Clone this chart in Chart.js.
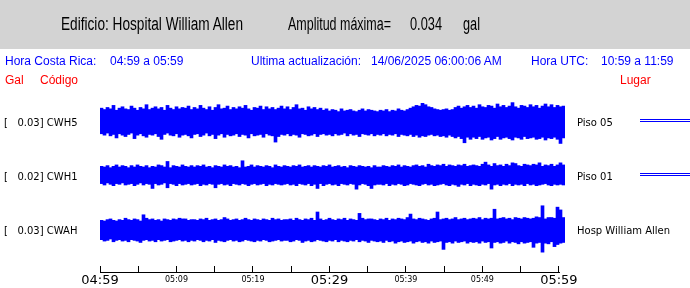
<!DOCTYPE html>
<html>
<head>
<meta charset="utf-8">
<script src="https://cdn.jsdelivr.net/npm/chart.js@4.4.1/dist/chart.umd.min.js"></script>
<style>
  html, body { margin: 0; padding: 0; background: #fff; }
  #wrap { position: relative; width: 690px; height: 288px; overflow: hidden; }
  #head { position: absolute; left: 0; top: 0; width: 690px; height: 49px; background: #d3d3d3; }
  canvas { position: absolute; left: 0; top: 0; }
  .t { position: absolute; white-space: pre; }
  .h { font: 18px/20px "Liberation Sans", Arial, sans-serif; color: #000; top: 14px; transform-origin: 0 0; }
  .b { font: 12px/14px "Liberation Sans", Arial, sans-serif; color: #0000ff; top: 54px; }
  .r { font: 12px/14px "Liberation Sans", Arial, sans-serif; color: #ff0000; top: 73px; }
  .s { font: 10px/12px "DejaVu Sans", sans-serif; color: #000; }
  .dl { position: absolute; left: 640px; width: 50px; height: 1px; border-top: 1px solid #0000ff; border-bottom: 1px solid #0000ff; }
</style>
</head>
<body>
<div id="wrap">
  <div id="head"></div>
  <canvas id="sismo" width="690" height="288"></canvas>

  <div class="t h" id="tEdif" style="left:61px">Edificio: Hospital William Allen</div>
  <div class="t h" id="tAmp" style="left:288px">Amplitud máxima=</div>
  <div class="t h" id="tVal" style="left:410px">0.034</div>
  <div class="t h" id="tGal" style="left:463px">gal</div>

  <div class="t b" style="left:5px">Hora Costa Rica:</div>
  <div class="t b" style="left:110px">04:59 a 05:59</div>
  <div class="t b" style="left:251px">Ultima actualización:</div>
  <div class="t b" style="left:371px">14/06/2025 06:00:06 AM</div>
  <div class="t b" style="left:531px">Hora UTC:</div>
  <div class="t b" style="left:601px">10:59 a 11:59</div>

  <div class="t r" style="left:5px">Gal</div>
  <div class="t r" style="left:40px">Código</div>
  <div class="t r" style="left:620px">Lugar</div>
</div>

<script>
// --- datos ---
const stations = ["CWH5", "CWH1", "CWAH"];
const peaks    = ["0.03", "0.02", "0.03"];
const places   = ["Piso 05", "Piso 01", "Hosp William Allen"];
const linked   = [true, true, false];   // doble linea azul a la derecha

// minutos desde 04:59
const tickMinutes = [0, 5, 10, 15, 20, 25, 30, 35, 40, 45, 50, 55, 60];
const tickLabels  = ["04:59", "", "05:09", "", "05:19", "", "05:29", "", "05:39", "", "05:49", "", "05:59"];
const bigTicks    = [0, 30, 60];

// envolvente de cada traza (mgal), una columna por cada ~23.5 s
const cwh5Hi = [
  20,18,21,19,24,17,20,22,19,18,23,20,17,21,19,25,18,20,22,19,21,17,24,20,18,22,19,21,20,23,18,
  21,19,24,20,18,22,17,21,25,19,20,23,18,21,19,22,20,24,19,17,21,20,23,18,22,19,21,18,20,23,19,
  22,18,21,25,19,20,17,22,19,21,18,20,17,19,16,18,17,15,19,16,17,18,16,15,17,19,16,18,17,16,15,
  17,16,18,15,17,16,19,17,16,18,20,22,24,23,27,25,22,21,19,18,17,18,19,17,18,21,23,20,22,24,21,
  23,20,25,22,21,24,23,20,26,22,24,21,23,28,22,20,24,23,21,25,22,24,20,23,26,22,25,21,24,22,23
];
const cwh5Lo = [
  -17,-19,-16,-20,-18,-23,-17,-19,-21,-18,-16,-24,-19,-17,-20,-22,-18,-19,-17,-21,-25,-18,-16,-19,-20,-17,-22,-19,-18,-20,-23,
  -18,-17,-21,-19,-16,-20,-18,-24,-19,-17,-22,-18,-20,-19,-17,-21,-18,-19,-23,-17,-20,-19,-18,-22,-17,-19,-20,-29,-21,-18,-19,
  -17,-20,-18,-19,-22,-17,-18,-20,-19,-17,-21,-18,-17,-19,-18,-20,-17,-19,-18,-16,-20,-17,-19,-18,-21,-17,-18,-19,-17,-20,-18,
  -19,-17,-20,-18,-19,-17,-21,-18,-19,-20,-18,-21,-19,-22,-20,-21,-19,-18,-20,-19,-21,-20,-22,-19,-21,-23,-21,-24,-30,-22,-25,
  -22,-24,-21,-25,-23,-22,-26,-24,-21,-25,-23,-22,-24,-26,-22,-23,-25,-21,-24,-23,-22,-25,-24,-22,-26,-23,-24,-22,-25,-31,-23
];
const cwh1Hi = [
  14,13,15,12,14,16,13,15,14,12,15,13,16,14,13,15,12,14,13,16,15,13,21,12,15,14,13,16,14,13,15,
  13,15,14,16,13,14,12,15,14,13,16,14,15,13,14,12,22,13,14,16,13,15,14,13,15,14,12,16,14,13,15,
  14,13,15,14,16,13,14,15,13,15,14,13,15,14,16,13,14,15,13,14,12,15,14,13,15,14,13,14,12,15,13,
  13,15,14,13,15,14,16,13,15,14,13,15,16,14,15,13,17,15,14,16,15,17,14,16,15,14,16,15,17,14,15,
  16,15,14,17,20,16,14,18,15,16,14,17,15,19,18,15,14,17,16,15,17,16,19,14,16,15,17,14,16,19,16
];
const cwh1Lo = [
  -11,-13,-10,-12,-14,-11,-12,-10,-13,-12,-11,-14,-12,-10,-13,-11,-12,-18,-11,-13,-12,-10,-17,-11,-12,-14,-11,-13,-12,-11,-13,
  -12,-11,-14,-12,-13,-11,-12,-17,-12,-11,-13,-12,-14,-11,-12,-13,-11,-12,-14,-12,-11,-13,-12,-11,-14,-12,-13,-11,-12,-13,-12,
  -11,-13,-12,-14,-11,-12,-13,-11,-14,-12,-18,-11,-14,-12,-11,-13,-12,-14,-11,-12,-13,-11,-12,-19,-13,-11,-12,-14,-18,-13,-12,
  -12,-13,-11,-14,-12,-13,-11,-12,-14,-13,-11,-12,-13,-14,-12,-11,-13,-12,-14,-13,-12,-11,-13,-14,-12,-13,-15,-12,-13,-11,-14,
  -12,-13,-14,-12,-13,-11,-19,-13,-12,-14,-12,-13,-11,-14,-12,-13,-12,-14,-11,-13,-12,-14,-13,-12,-11,-13,-14,-12,-13,-12,-13
];
const cwahHi = [
  14,13,15,16,14,13,15,14,17,15,14,16,15,13,22,17,15,16,14,15,13,16,15,14,16,15,17,16,16,14,15,
  15,14,16,15,17,14,15,16,14,15,18,16,14,15,16,14,15,17,15,14,16,15,14,16,15,14,17,15,16,14,15,
  15,16,14,17,15,14,16,15,17,14,26,16,14,15,17,15,14,16,15,17,14,16,15,14,24,17,15,16,16,15,14,
  16,15,17,14,16,15,17,16,15,18,23,16,15,17,16,15,14,16,17,26,15,16,17,15,16,18,15,16,17,15,16,
  17,16,18,15,17,16,17,30,16,17,18,16,17,15,18,17,16,18,17,16,17,19,18,35,16,18,18,17,33,29,18
];
const cwahLo = [
  -14,-16,-15,-13,-17,-15,-14,-16,-15,-17,-14,-15,-16,-18,-15,-14,-16,-15,-17,-14,-16,-15,-14,-17,-16,-15,-14,-16,-15,-17,-15,
  -16,-14,-15,-17,-15,-16,-14,-18,-15,-16,-17,-15,-14,-16,-15,-17,-16,-14,-15,-16,-17,-15,-16,-14,-15,-17,-16,-15,-14,-16,-15,
  -15,-17,-16,-14,-15,-18,-16,-15,-17,-16,-14,-15,-16,-17,-15,-16,-14,-17,-15,-16,-17,-15,-16,-14,-17,-15,-16,-18,-15,-16,-17,
  -16,-18,-15,-17,-16,-19,-17,-16,-18,-17,-16,-19,-17,-16,-18,-17,-19,-16,-18,-17,-16,-28,-18,-17,-19,-16,-18,-17,-16,-19,-17,
  -18,-17,-19,-16,-18,-17,-26,-18,-17,-19,-18,-16,-19,-17,-18,-20,-17,-19,-18,-17,-25,-19,-18,-32,-19,-20,-17,-24,-21,-19,-18
];

const traceHi = [cwh5Hi, cwh1Hi, cwahHi];
const traceLo = [cwh5Lo, cwh1Lo, cwahLo];

// --- grafico ---
const sampleIdx = cwh5Hi.map((_, i) => i);

// linea del eje de tiempo, debajo de las marcas
const axisLine = {
  id: "axisLine",
  afterDraw(c) {
    const sx = c.scales.x, g = c.ctx;
    const y = Math.round(sx.top + 7) - 0.5;
    g.save();
    g.strokeStyle = "#000";
    g.lineWidth = 1;
    g.beginPath();
    g.moveTo(Math.round(sx.getPixelForValue(tickMinutes[0])), y);
    g.lineTo(Math.round(sx.getPixelForValue(tickMinutes[tickMinutes.length - 1])) + 1, y);
    g.stroke();
    g.restore();
  }
};

const yAxis = (min, max, w) => ({
  type: "linear", position: "right", stack: "traces", stackWeight: w,
  min: min, max: max, display: false
});

const chart = new Chart(document.getElementById("sismo"), {
  type: "bar",
  data: {
    labels: sampleIdx,
    datasets: stations.map((st, k) => ({
      label: st,
      data: traceHi[k].map((h, i) => [traceLo[k][i], h]),
      xAxisID: "xs",
      yAxisID: "y" + (k + 1),
      backgroundColor: "#0000ff",
      borderWidth: 0,
      grouped: false,
      barPercentage: 1,
      categoryPercentage: 1
    }))
  },
  options: {
    responsive: false,
    animation: false,
    events: [],
    layout: { padding: { left: 100, right: 125, top: 95, bottom: 0 } },
    plugins: { legend: { display: false }, tooltip: { enabled: false } },
    scales: {
      xs: { type: "category", display: false, offset: true },
      x: {
        type: "linear", position: "bottom", min: 0, max: 60.8, offset: false,
        afterBuildTicks: (s) => { s.ticks = tickMinutes.map(v => ({ value: v })); },
        afterFit: (s) => { s.height = 22; },
        border: { display: false },
        grid: { offset: false, drawOnChartArea: false, drawTicks: true, tickLength: 7, color: "#000", lineWidth: 1 },
        ticks: {
          autoSkip: false, maxRotation: 0, minRotation: 0, padding: 0, color: "#000",
          font: (c) => bigTicks.includes(c.tick && c.tick.value)
            ? { family: "DejaVu Sans", size: 13, lineHeight: 1.2 }
            : { family: "DejaVu Sans", size: 8, lineHeight: 1.75 },
          callback: (v, i) => tickLabels[i]
        }
      },
      y1: yAxis(-39, 39, 54),
      y2: yAxis(-39, 39, 54),
      y3: yAxis(-52, 39, 63)
    }
  },
  plugins: [axisLine]
});

// --- textos alrededor ---
const wrap = document.getElementById("wrap");
stations.forEach((st, k) => {
  const y0 = chart.scales["y" + (k + 1)].getPixelForValue(0);
  const left = document.createElement("div");
  left.className = "t s";
  left.style.left = "4px";
  left.style.top = (y0 - 5.5) + "px";
  left.textContent = "[   " + peaks[k] + "] " + st;
  wrap.appendChild(left);

  const right = document.createElement("div");
  right.className = "t s";
  right.style.left = "577px";
  right.style.top = (y0 - 5.5) + "px";
  right.textContent = places[k];
  wrap.appendChild(right);

  if (linked[k]) {
    const dl = document.createElement("div");
    dl.className = "dl";
    dl.style.top = Math.round(y0 - 3) + "px";
    wrap.appendChild(dl);
  }
});

function fit(id, w) {
  const el = document.getElementById(id);
  const r = el.getBoundingClientRect().width;
  if (r > 0) el.style.transform = "scaleX(" + (w / r) + ")";
}
fit("tEdif", 182);
fit("tAmp", 103);
fit("tVal", 32);
fit("tGal", 17);
</script>
</body>
</html>
